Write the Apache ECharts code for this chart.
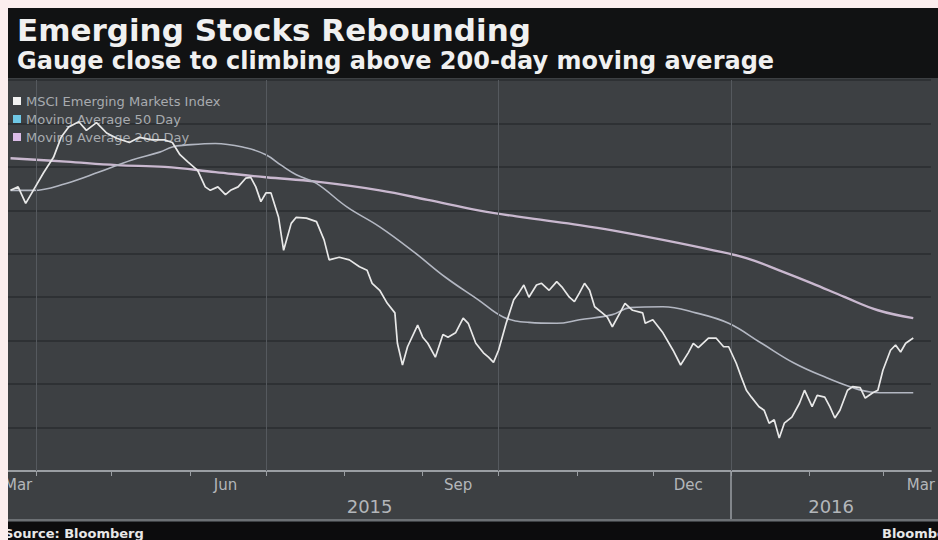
<!DOCTYPE html>
<html>
<head>
<meta charset="utf-8">
<script src="https://cdn.jsdelivr.net/npm/echarts@6/dist/echarts.min.js"></script>
<style>
  html, body { margin: 0; padding: 0; background: #fbeeee; }
  #chart { width: 938px; height: 540px; }
</style>
</head>
<body>
<div id="chart"></div>
<script>
// ---------- DATA ----------
const indexDates = [
  '2015-03-22','2015-03-25','2015-03-28','2015-03-31','2015-04-04','2015-04-08','2015-04-11','2015-04-14',
  '2015-04-18','2015-04-21','2015-04-25','2015-04-29','2015-05-03','2015-05-08','2015-05-12','2015-05-17',
  '2015-05-22','2015-05-25','2015-05-28','2015-05-31','2015-06-04','2015-06-07','2015-06-09','2015-06-12',
  '2015-06-15','2015-06-17','2015-06-20','2015-06-23','2015-06-25','2015-06-27','2015-06-29','2015-07-01',
  '2015-07-03','2015-07-06','2015-07-08','2015-07-11','2015-07-13','2015-07-17','2015-07-21','2015-07-24',
  '2015-07-26','2015-07-30','2015-08-03','2015-08-07','2015-08-10','2015-08-12','2015-08-15','2015-08-18',
  '2015-08-21','2015-08-22','2015-08-24','2015-08-26','2015-08-30','2015-09-01','2015-09-03','2015-09-06',
  '2015-09-09','2015-09-11','2015-09-14','2015-09-17','2015-09-19','2015-09-22','2015-09-25','2015-09-27',
  '2015-09-29','2015-10-01','2015-10-04','2015-10-07','2015-10-09','2015-10-11','2015-10-13','2015-10-16',
  '2015-10-18','2015-10-21','2015-10-24','2015-10-26','2015-10-29','2015-10-31','2015-11-02','2015-11-04',
  '2015-11-06','2015-11-08','2015-11-11','2015-11-13','2015-11-15','2015-11-18','2015-11-20','2015-11-23',
  '2015-11-27','2015-11-28','2015-12-01','2015-12-05','2015-12-09','2015-12-12','2015-12-15','2015-12-17',
  '2015-12-19','2015-12-23','2015-12-26','2015-12-29','2015-12-31','2016-01-03','2016-01-05','2016-01-07',
  '2016-01-09','2016-01-12','2016-01-14','2016-01-16','2016-01-18','2016-01-20','2016-01-22','2016-01-25',
  '2016-01-28','2016-01-30','2016-02-02','2016-02-04','2016-02-07','2016-02-09','2016-02-11','2016-02-13',
  '2016-02-16','2016-02-18','2016-02-21','2016-02-23','2016-02-26','2016-02-28','2016-03-01','2016-03-04',
  '2016-03-06','2016-03-08','2016-03-10','2016-03-13'
];
const indexValues = [
  973, 977, 958, 973, 993, 1011, 1034, 1046,
  1052, 1042, 1051, 1039, 1033, 1028, 1034, 1031,
  1031, 1028, 1014, 1006, 996, 977, 973, 977,
  968, 973, 977, 987, 988, 977, 960, 970,
  970, 942, 904, 935, 942, 941, 937, 916,
  893, 896, 893, 885, 881, 866, 858, 843,
  832, 797, 772, 793, 818, 804, 797, 781,
  807, 804, 809, 826, 820, 797, 786, 781,
  775, 789, 820, 847, 855, 864, 850, 864,
  866, 858, 868, 862, 850, 845, 855, 866,
  858, 839, 832, 827, 816, 832, 843, 835,
  832, 820, 824, 809, 789, 772, 786, 797,
  792, 803, 803, 793, 793, 774, 758, 743,
  735, 724, 720, 705, 709, 688, 705, 712,
  728, 743, 724, 737, 735, 724, 711, 720,
  743, 747, 746, 734, 740, 743, 766, 789,
  795, 787, 797, 803
];
const ma50Dates = [
  '2015-03-22','2015-03-31','2015-04-13','2015-04-26','2015-05-09','2015-05-20','2015-05-25','2015-05-30',
  '2015-06-11','2015-06-23','2015-07-01','2015-07-07','2015-07-13','2015-07-21','2015-08-02','2015-08-15',
  '2015-08-29','2015-09-10','2015-09-23','2015-10-03','2015-10-13','2015-10-24','2015-11-02','2015-11-15',
  '2015-11-22','2015-12-05','2015-12-18','2015-12-31','2016-01-13','2016-01-26','2016-02-08','2016-02-17',
  '2016-02-25','2016-03-05','2016-03-13'
];
const ma50Values = [
  973, 973, 981, 994, 1008, 1017, 1023, 1025,
  1027, 1022, 1014, 1002, 991, 981, 954, 931,
  901, 873, 847, 827, 821, 820, 824, 830,
  838, 839, 832, 820, 797, 774, 757, 747,
  741, 740, 740
];
const ma200Dates = [
  '2015-03-22','2015-04-13','2015-05-03','2015-05-22','2015-06-11','2015-07-01','2015-07-21','2015-08-15',
  '2015-09-03','2015-09-23','2015-10-13','2015-11-02','2015-11-15','2015-12-05','2015-12-25','2016-01-07',
  '2016-01-20','2016-02-02','2016-02-15','2016-02-28','2016-03-13'
];
const ma200Values = [
  1010, 1006, 1002, 1000, 994, 988, 983, 973,
  962, 950, 941, 933, 927, 916, 904, 895,
  881, 866, 850, 835, 826
];
const seriesNames = ['MSCI Emerging Markets Index', 'Moving Average 50 Day', 'Moving Average 200 Day'];
const axisStart = '2015-03-21';
const axisEnd = '2016-03-20';
const monthStarts = ['2015-04-01','2015-05-01','2015-06-01','2015-07-01','2015-08-01','2015-09-01','2015-10-01',
  '2015-11-01','2015-12-01','2016-01-01','2016-02-01','2016-03-01'];
const quarterStarts = ['2015-04-01','2015-07-01','2015-10-01','2016-01-01'];
const monthLabelDates = ['2015-03-25','2015-06-15','2015-09-15','2015-12-15','2016-03-16'];
const yearBreaks = ['2016-01-01'];
const monthNames = ['Jan','Feb','Mar','Apr','May','Jun','Jul','Aug','Sep','Oct','Nov','Dec'];
const yMin = 650, yMax = 1100, yStep = 50;

// ---------- CHART ----------
const T = s => Date.UTC(+s.slice(0, 4), +s.slice(5, 7) - 1, +s.slice(8, 10));
const tMin = T(axisStart), tMax = T(axisEnd), tBreak = T(yearBreaks[0]);
const yearLabelValues = [(tMin + tBreak) / 2, (tBreak + tMax) / 2];
const pair = (ds, vs) => ds.map((d, i) => [T(d), vs[i]]);

const chart = echarts.init(document.getElementById('chart'), null, { renderer: 'svg' });
const FONT = 'DejaVu Sans';
const axisGray = '#9a9ea3';

chart.setOption({
  animation: false,
  backgroundColor: '#3d4043',
  textStyle: { fontFamily: FONT },
  title: [
    { text: 'Emerging Stocks Rebounding', left: 12, top: 9,
      textStyle: { color: '#f0f0f0', fontSize: 31, fontWeight: 'bold', fontFamily: FONT } },
    { text: 'Gauge close to climbing above 200-day moving average', left: 12, top: 44,
      textStyle: { color: '#f0f0f0', fontSize: 24, fontWeight: 'bold', fontFamily: FONT } }
  ],
  legend: {
    orient: 'vertical', left: 8, top: 89, itemWidth: 8, itemHeight: 8, itemGap: 4,
    icon: 'rect', selectedMode: false,
    textStyle: { color: '#a8abaf', fontSize: 13, fontFamily: FONT, lineHeight: 14 },
    data: [
      { name: seriesNames[0], itemStyle: { color: '#f2f2f2' } },
      { name: seriesNames[1], itemStyle: { color: '#6fc8e6' } },
      { name: seriesNames[2], itemStyle: { color: '#dcbde8' } }
    ]
  },
  grid: { left: 8, right: 0, top: 80, bottom: 69, containLabel: false },
  xAxis: [
    {
      type: 'value', min: tMin, max: tMax, scale: true,
      axisLine: { show: true, lineStyle: { color: axisGray, width: 2 } },
      axisTick: { show: true, customValues: monthStarts.map(T), length: 5, lineStyle: { color: axisGray, width: 1 } },
      axisLabel: { show: true, customValues: monthLabelDates.map(T), color: '#b3b6ba', fontSize: 15, margin: 6,
        formatter: v => monthNames[new Date(v).getUTCMonth()] },
      splitLine: { show: false }
    },
    {
      type: 'value', min: tMin, max: tMax, scale: true, position: 'bottom',
      axisLine: { show: false },
      axisTick: { show: true, customValues: yearBreaks.map(T), length: 50, lineStyle: { color: axisGray, width: 1.5 } },
      axisLabel: { show: true, customValues: yearLabelValues, color: '#b3b6ba', fontSize: 18, margin: 26,
        formatter: v => String(new Date(v).getUTCFullYear()) },
      splitLine: { show: false }
    }
  ],
  yAxis: {
    type: 'value', min: yMin, max: yMax, interval: yStep,
    axisLine: { show: false }, axisTick: { show: false }, axisLabel: { show: false },
    splitLine: { show: true, lineStyle: { color: '#2a2c2f', width: 1.5 } }
  },
  graphic: [
    { type: 'rect', z: 1, shape: { x: 8, y: 8, width: 930, height: 70 }, style: { fill: '#111213' } },
    { type: 'rect', z: 1, shape: { x: 8, y: 519, width: 930, height: 2 }, style: { fill: '#6c7074' } },
    { type: 'rect', z: 1, shape: { x: 8, y: 522, width: 930, height: 18 }, style: { fill: '#0c0c0d' } },
    { type: 'text', z: 2, x: 4, y: 527, style: { text: 'Source: Bloomberg', fill: '#e8e8e8',
      font: 'bold 13px "DejaVu Sans"' } },
    { type: 'text', z: 2, x: 882, y: 527, style: { text: 'Bloomberg', fill: '#e8e8e8',
      font: 'bold 13px "DejaVu Sans"' } },
    { type: 'rect', z: 100, shape: { x: 0, y: 0, width: 8, height: 540 }, style: { fill: '#fbeeee' } },
    { type: 'rect', z: 100, shape: { x: 0, y: 0, width: 938, height: 8 }, style: { fill: '#fbeeee' } }
  ],
  series: [
    {
      name: seriesNames[0], type: 'line', xAxisIndex: 0, data: pair(indexDates, indexValues),
      showSymbol: false, symbol: 'none', z: 5,
      lineStyle: { color: '#e8e8e8', width: 1.7 }, itemStyle: { color: '#f2f2f2' },
      markLine: {
        silent: true, symbol: 'none', label: { show: false },
        lineStyle: { color: '#55595e', width: 1, type: 'solid' },
        data: quarterStarts.map(d => ({ xAxis: T(d) }))
      }
    },
    {
      name: seriesNames[1], type: 'line', xAxisIndex: 0, data: pair(ma50Dates, ma50Values),
      showSymbol: false, symbol: 'none', smooth: 0.4, z: 4,
      lineStyle: { color: '#b3b7c2', width: 1.6 }, itemStyle: { color: '#6fc8e6' }
    },
    {
      name: seriesNames[2], type: 'line', xAxisIndex: 0, data: pair(ma200Dates, ma200Values),
      showSymbol: false, symbol: 'none', smooth: 0.4, z: 3,
      lineStyle: { color: '#c9b8cf', width: 2.4 }, itemStyle: { color: '#dcbde8' }
    }
  ]
});
</script>
</body>
</html>
